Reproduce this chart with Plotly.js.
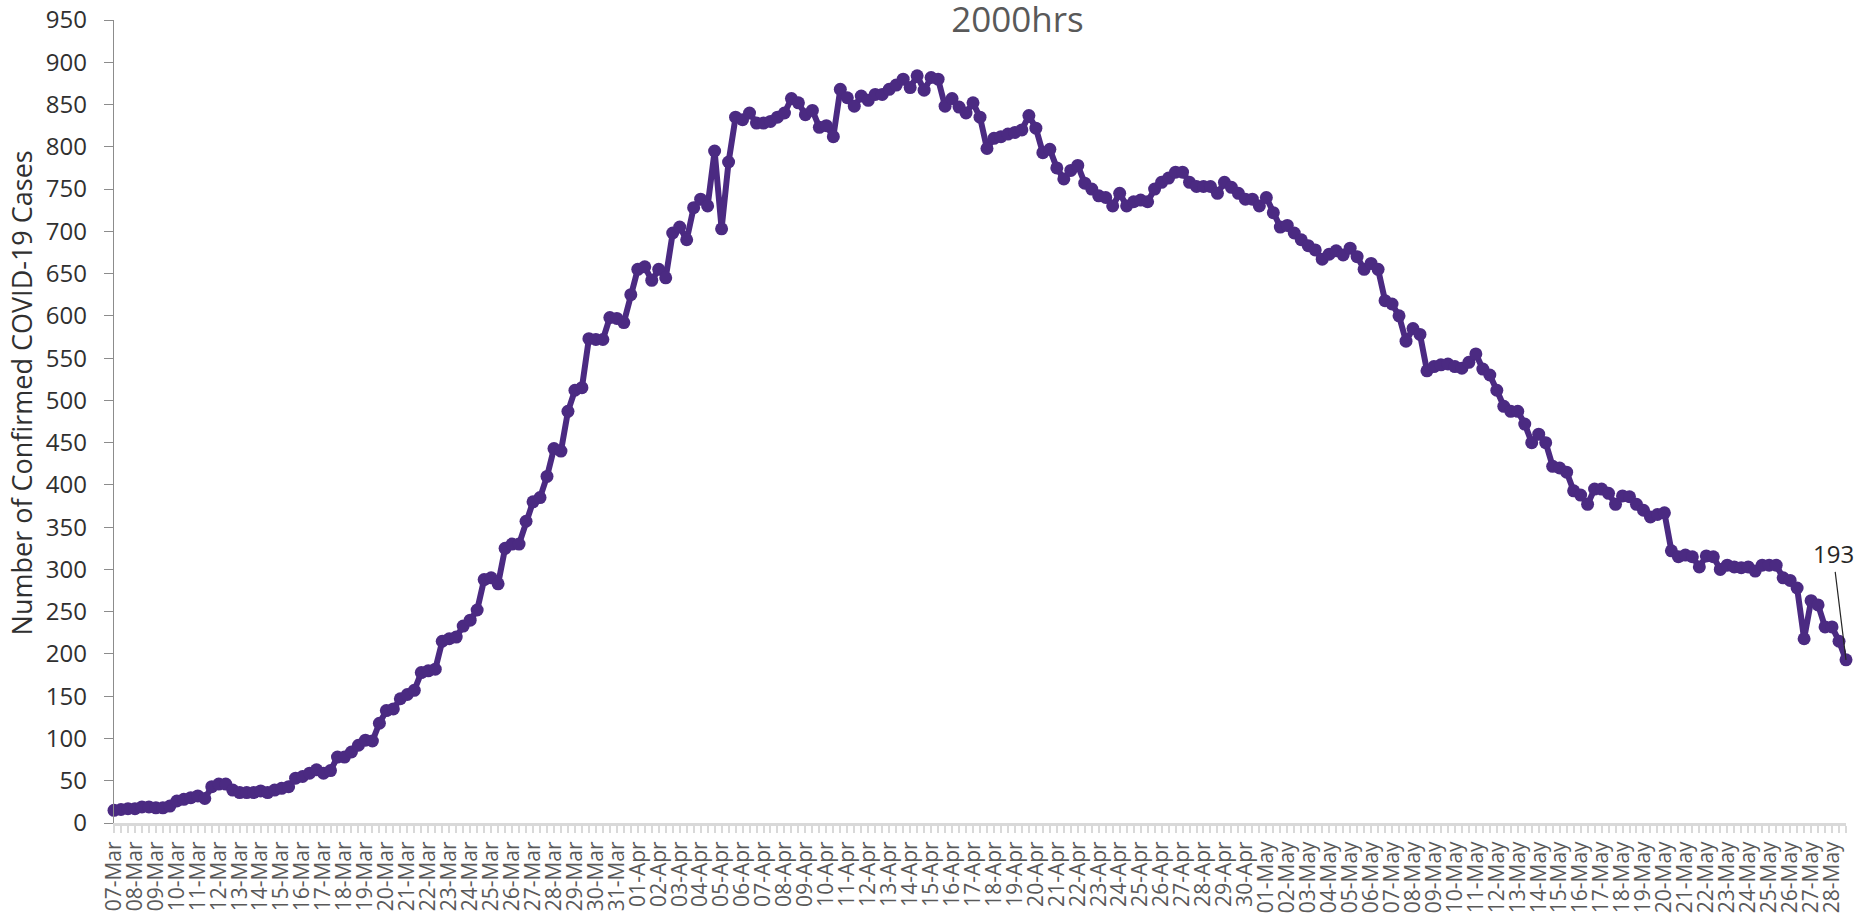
<!DOCTYPE html>
<html>
<head>
<meta charset="utf-8">
<script src="https://cdn.plot.ly/plotly-3.0.1.min.js"></script>
<style>
html,body{margin:0;padding:0;background:#ffffff;}
#chart{width:1860px;height:917px;}
</style>
</head>
<body>
<div id="chart"></div>
<script>
// Day labels on the category axis (one label per day, three readings per day)
const dayLabels = [
  '07-Mar','08-Mar','09-Mar','10-Mar','11-Mar','12-Mar','13-Mar','14-Mar','15-Mar','16-Mar',
  '17-Mar','18-Mar','19-Mar','20-Mar','21-Mar','22-Mar','23-Mar','24-Mar','25-Mar','26-Mar',
  '27-Mar','28-Mar','29-Mar','30-Mar','31-Mar',
  '01-Apr','02-Apr','03-Apr','04-Apr','05-Apr','06-Apr','07-Apr','08-Apr','09-Apr','10-Apr',
  '11-Apr','12-Apr','13-Apr','14-Apr','15-Apr','16-Apr','17-Apr','18-Apr','19-Apr','20-Apr',
  '21-Apr','22-Apr','23-Apr','24-Apr','25-Apr','26-Apr','27-Apr','28-Apr','29-Apr','30-Apr',
  '01-May','02-May','03-May','04-May','05-May','06-May','07-May','08-May','09-May','10-May',
  '11-May','12-May','13-May','14-May','15-May','16-May','17-May','18-May','19-May','20-May',
  '21-May','22-May','23-May','24-May','25-May','26-May','27-May','28-May'
];
const readingsPerDay = 3;

// Number of confirmed COVID-19 cases (three readings per day)
const cases = [
  15,16,17, 17,19,19, 18,18,20, 26,28,30, 32,29,43, 46,46,39, 36,36,36, 38,36,39,
  41,43,53, 55,59,63, 59,62,78, 78,84,92, 98,97,118, 133,135,147, 152,157,178,
  180,182,215, 218,220,233, 240,252,288, 290,283,325, 330,330,357, 380,385,410,
  443,440,487, 512,515,573, 572,572,598, 597,592,625,
  655,658,642, 655,645,698, 705,690,728, 738,730,795, 703,782,835, 832,840,828,
  828,830,835, 840,857,852, 838,843,823, 825,812,868, 858,848,860, 855,862,862,
  868,873,880, 870,884,867, 882,880,848, 857,847,840, 852,835,798, 810,812,815,
  817,820,837, 822,793,797, 775,762,772, 778,757,750, 742,740,730, 745,730,735,
  737,735,750, 758,763,770, 770,758,753, 753,753,745, 758,752,745, 738,738,730,
  740,722,705, 707,698,690, 683,678,667, 673,677,672, 680,670,655, 662,655,618,
  614,600,570, 585,578,535, 540,542,543, 540,538,545, 555,537,530, 512,493,487,
  487,472,450, 460,450,422, 420,415,393, 388,377,395, 395,390,377, 387,386,377,
  370,362,365, 367,322,315, 317,315,303, 316,315,300, 305,303,302, 303,298,305,
  305,305,290, 287,278,218, 263,258,232, 232,215,193
];

const chartTitle = '2000hrs';
const yTitle = 'Number of Confirmed COVID-19 Cases';
const yTickValues = [0,50,100,150,200,250,300,350,400,450,500,550,600,650,700,750,800,850,900,950];

const xIndex = cases.map((_, i) => i);
const tickPositions = dayLabels.map((_, d) => d * readingsPerDay);
const lastIndex = cases.length - 1;
const purple = '#4b2a82';
const fontFamily = '"Open Sans", "Noto Sans", sans-serif';

const trace = {
  x: xIndex,
  y: cases,
  type: 'scatter',
  mode: 'lines+markers',
  line: {color: purple, width: 6},
  marker: {color: purple, size: 13},
  cliponaxis: false,
  hoverinfo: 'y'
};

const layout = {
  width: 1860,
  height: 917,
  margin: {l: 114, r: 14, t: 20, b: 94},
  paper_bgcolor: '#ffffff',
  plot_bgcolor: '#ffffff',
  showlegend: false,
  font: {family: fontFamily, color: '#404040'},
  title: {
    text: chartTitle,
    font: {family: fontFamily, size: 35, color: '#595959'},
    xref: 'container', x: 0.547, xanchor: 'center',
    yref: 'container', y: 0.992, yanchor: 'top',
    pad: {t: 0, b: 0}
  },
  xaxis: {
    range: [0, lastIndex],
    tickmode: 'array',
    tickvals: tickPositions,
    ticktext: dayLabels,
    tickangle: -90,
    tickfont: {family: fontFamily, size: 21, color: '#595959'},
    ticks: 'outside',
    ticklen: 7,
    tickwidth: 2,
    tickcolor: '#d9d9d9',
    minor: {dtick: 1, ticks: 'outside', ticklen: 7, tickwidth: 2, tickcolor: '#d9d9d9'},
    showline: true,
    linecolor: '#d9d9d9',
    linewidth: 3,
    showgrid: false,
    zeroline: false,
    fixedrange: true
  },
  yaxis: {
    range: [0, 950],
    tickmode: 'array',
    tickvals: yTickValues,
    tickfont: {family: fontFamily, size: 24, color: '#303030'},
    ticks: 'outside',
    ticklen: 9,
    tickcolor: '#8c8c8c',
    ticklabelstandoff: 12,
    showline: true,
    linecolor: '#8c8c8c',
    linewidth: 1.3,
    showgrid: false,
    zeroline: false,
    fixedrange: true
  },
  annotations: [
    {
      text: yTitle,
      textangle: -90,
      xref: 'paper', x: (21 - 114) / 1732,
      yref: 'paper', y: 0.535,
      xanchor: 'center', yanchor: 'middle',
      showarrow: false,
      font: {family: fontFamily, size: 27, color: '#303030'}
    },
    {
      x: lastIndex,
      y: cases[lastIndex],
      xref: 'x', yref: 'y',
      text: String(cases[lastIndex]),
      showarrow: true,
      arrowhead: 0,
      arrowwidth: 1.2,
      arrowcolor: '#262626',
      ax: -13,
      ay: -106,
      font: {family: fontFamily, size: 24, color: '#262626'}
    }
  ]
};

Plotly.newPlot('chart', [trace], layout, {displayModeBar: false, staticPlot: true});
</script>
</body>
</html>
